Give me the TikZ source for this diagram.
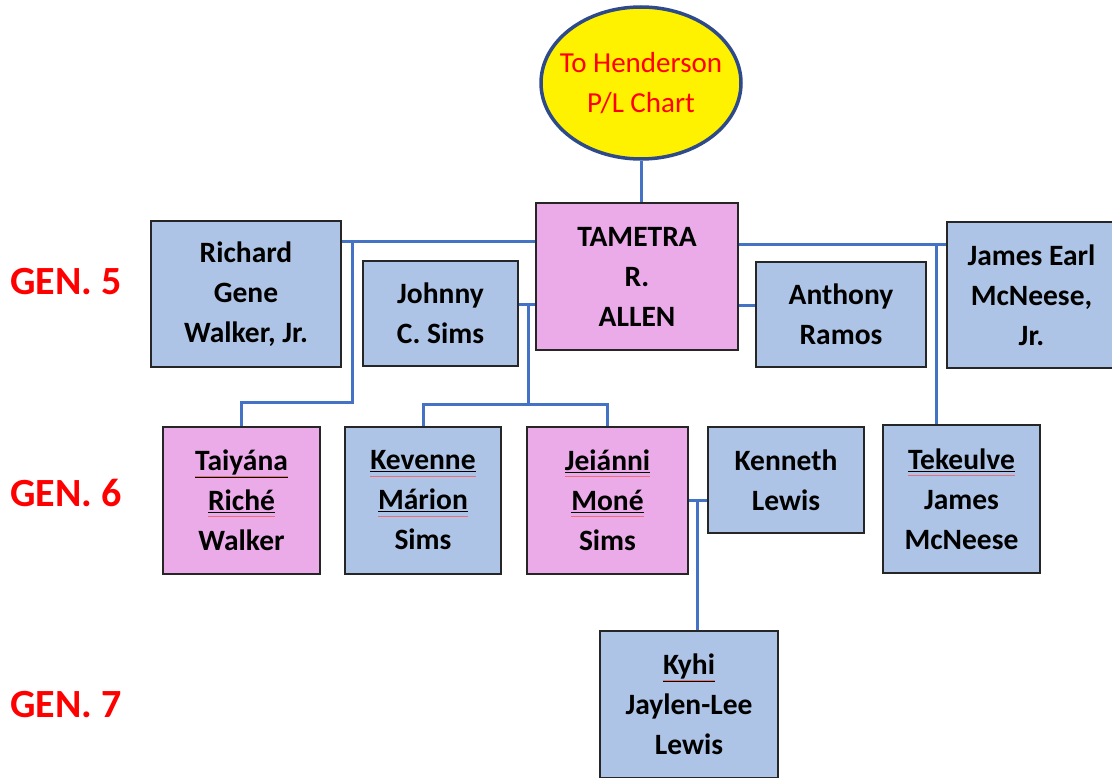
\documentclass[tikz,border=0pt]{standalone}
\usepackage{fontspec}
\setmainfont{Carlito}
\usetikzlibrary{shapes.geometric}
\definecolor{boxblue}{HTML}{AEC4E6}
\definecolor{boxpink}{HTML}{EBAAE8}
\definecolor{linkblue}{HTML}{4472C4}
\definecolor{ovalrim}{HTML}{2E4A8B}
\definecolor{genred}{HTML}{FF0000}
\definecolor{squiggle}{HTML}{EC6E78}
% underlined name with a thin red mark just beneath the underline
\newcommand{\ulname}[1]{\setbox0\hbox{#1}%
  \rlap{\raisebox{-6.2pt}{\textcolor{squiggle}{\rule{\wd0}{0.55pt}}}}\underline{#1}}
\tikzset{
  person/.style={draw=black!85, line width=2.2pt, align=center, inner sep=0pt,
    font=\bfseries\fontsize{29.5}{40}\selectfont, text=black},
  bluebox/.style={person, fill=boxblue},
  pinkbox/.style={person, fill=boxpink},
  link/.style={draw=linkblue, line width=3pt},
  genlabel/.style={text=genred, font=\bfseries\fontsize{40}{48}\selectfont, anchor=west, inner sep=0pt}
}
\begin{document}
\begin{tikzpicture}[x=1pt, y=-1pt]
\useasboundingbox (0,0) rectangle (1112,778);

% generation labels
\node[genlabel] (g5) at (10,282) {GEN. 5};
\node[genlabel] (g6) at (10,493) {GEN. 6};
\node[genlabel] (g7) at (10,705) {GEN. 7};

% link to the other chart
\node[ellipse, draw=ovalrim, line width=3.5pt, fill=yellow, minimum width=200pt,
  minimum height=152pt, inner sep=-16pt, align=center, text=genred,
  font=\fontsize{29}{40}\selectfont] (oval) at (641,83) {To Henderson\\P/L Chart};

% generation 5
\node[pinkbox, minimum width=202pt, minimum height=147pt] (tam) at (637,276.5) {TAMETRA\\R.\\ALLEN};
\node[bluebox, minimum width=190pt, minimum height=146pt] (rich) at (246,294) {Richard\\Gene\\Walker, Jr.};
\node[bluebox, minimum width=155pt, minimum height=105pt] (john) at (440.5,313.5) {Johnny\\C. Sims};
\node[bluebox, minimum width=170pt, minimum height=105pt] (ant) at (841,314.5) {Anthony\\Ramos};
\node[bluebox, minimum width=169pt, minimum height=146pt] (james) at (1031.5,295) {James Earl\\McNeese,\\Jr.};

% generation 6
\node[pinkbox, minimum width=157pt, minimum height=147pt] (tai) at (241.5,500.5) {\ulname{Taiyána}\\\ulname{Riché}\\Walker};
\node[bluebox, minimum width=156pt, minimum height=147pt] (kev) at (423,500.5) {\ulname{Kevenne}\\\ulname{Márion}\\Sims};
\node[pinkbox, minimum width=161pt, minimum height=147pt] (jei) at (607.5,500.5) {\ulname{Jeiánni}\\\ulname{Moné}\\Sims};
\node[bluebox, minimum width=156pt, minimum height=106pt] (ken) at (786,480) {Kenneth\\Lewis};
\node[bluebox, minimum width=157pt, minimum height=148pt] (tek) at (961.5,499) {\ulname{Tekeulve}\\James\\McNeese};

% generation 7
\node[bluebox, minimum width=178pt, minimum height=147pt] (kyhi) at (689,704.5) {\ulname{Kyhi}\\Jaylen-Lee\\Lewis};

% junction points
\coordinate (jR) at (352,242);
\coordinate (kR) at (352,402);
\coordinate (jJ) at (528,305);
\coordinate (kJ) at (528,404);
\coordinate (jE) at (936,245);
\coordinate (jA) at (746,306);
\coordinate (jK) at (697,500);

% connectors
\draw[link] (oval.south) -- (oval.south |- tam.north);
\draw[link] (rich.east |- jR) -- (tam.west |- jR);
\draw[link] (jR) -- (kR) -| (tai.north);
\draw[link] (john.east |- jJ) -- (tam.west |- jJ);
\draw[link] (jJ) -- (kJ);
\draw[link] (kev.north) |- (kJ) -| (jei.north);
\draw[link] (tam.east |- jE) -- (james.west |- jE);
\draw[link] (jE) -- (jE |- tek.north);
\draw[link] (tam.east |- jA) -- (ant.west |- jA);
\draw[link] (jei.east |- jK) -- (ken.west |- jK);
\draw[link] (jK) -- (jK |- kyhi.north);
\end{tikzpicture}
\end{document}
